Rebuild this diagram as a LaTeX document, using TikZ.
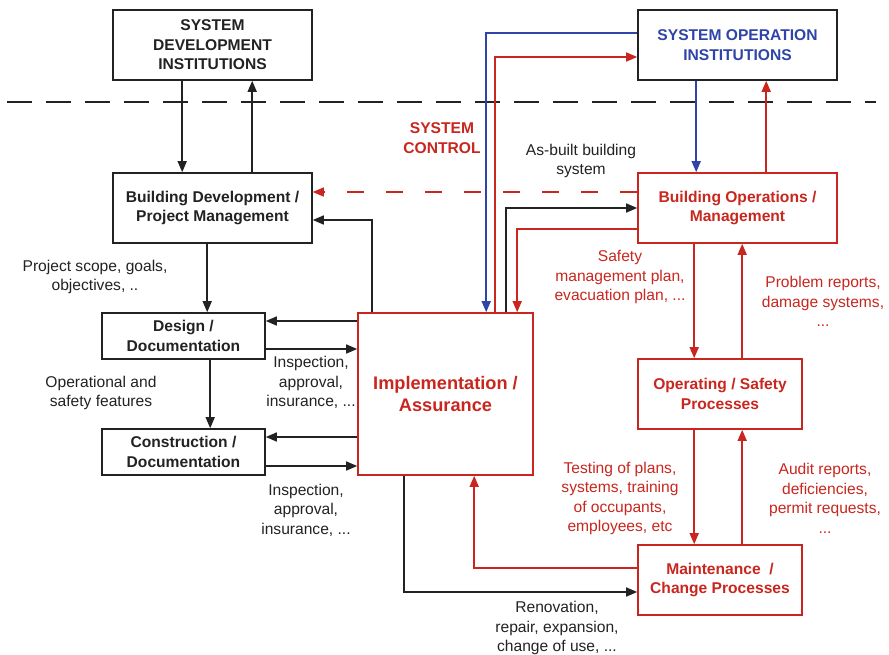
\documentclass[tikz,border=0pt]{standalone}
\usepackage{fontspec}
\setmainfont{Liberation Sans}
\usetikzlibrary{arrows.meta}
\definecolor{cred}{RGB}{200,38,30}
\definecolor{cblue}{RGB}{46,68,168}
\definecolor{cblk}{RGB}{34,34,34}
\newcommand\myfs{\fontsize{15.6}{19.5}\selectfont}
\newcommand\myfsbig{\fontsize{18.2}{22}\selectfont}
\tikzset{
  box/.style={draw=cblk, line width=1.6pt, inner sep=0pt, align=center, font=\myfs\bfseries, text=cblk},
  redbox/.style={box, draw=cred, text=cred},
  lbl/.style={align=center, font=\myfs, text=cblk, inner sep=0pt},
  redlbl/.style={lbl, text=cred},
  conn/.style={line width=1.5pt, draw=cblk, -{Triangle[length=11pt,width=9pt]}},
  redconn/.style={conn, draw=cred},
  blueconn/.style={conn, draw=cblue},
}
\begin{document}
\begin{tikzpicture}[x=1pt,y=-1pt]
\useasboundingbox (0,0) rectangle (889,654);
% dashed separator
\draw[cblk, line width=1.5pt, dash pattern=on 25pt off 14pt] (7,102) -- (876,102);

% boxes
\node[box, minimum width=199pt, minimum height=70pt] (sysdev) at (212.5,45) {SYSTEM\\DEVELOPMENT\\INSTITUTIONS};
\node[box, minimum width=199pt, minimum height=70pt, text=cblue] (sysop) at (737.5,45) {SYSTEM OPERATION\\INSTITUTIONS};
\node[box, minimum width=199pt, minimum height=70pt] (bdev) at (212.5,208) {Building Development /\\Project Management};
\node[redbox, minimum width=199pt, minimum height=70pt] (bops) at (737.5,208) {Building Operations /\\Management};
\node[box, minimum width=163pt, minimum height=46pt] (design) at (183.5,336) {Design /\\Documentation};
\node[box, minimum width=163pt, minimum height=46pt] (constr) at (183.5,452) {Construction /\\Documentation};
\node[redbox, minimum width=175pt, minimum height=162pt, font=\myfsbig\bfseries] (impl) at (445.5,394) {Implementation /\\Assurance};
\node[redbox, minimum width=164pt, minimum height=70pt] (opsafe) at (720,394) {Operating / Safety\\Processes};
\node[redbox, minimum width=164pt, minimum height=70pt] (maint) at (720,580) {Maintenance~~/\\Change Processes};

% left column connectors
\draw[conn] ([xshift=70pt]sysdev.south west) coordinate (a1) -- (a1 |- bdev.north);
\draw[conn] ([xshift=140pt]bdev.north west) coordinate (a2) -- (a2 |- sysdev.south);
\draw[conn] ([xshift=95pt]bdev.south west) coordinate (a3) -- (a3 |- design.north);
\draw[conn] ([xshift=109pt]design.south west) coordinate (a4) -- (a4 |- constr.north);
\draw[conn] ([xshift=15pt]impl.north west) |- ([yshift=-12pt]bdev.east);
\draw[conn] ([yshift=15pt]design.east -| impl.west) -- ([yshift=15pt]design.east);
\draw[conn] ([yshift=-13pt]design.east) -- ([yshift=-13pt]design.east -| impl.west);
\draw[conn] ([yshift=15pt]constr.east -| impl.west) -- ([yshift=15pt]constr.east);
\draw[conn] ([yshift=-14pt]constr.east) -- ([yshift=-14pt]constr.east -| impl.west);

% dashed red control
\draw[redconn, dash pattern=on 17pt off 22pt] ([yshift=16pt]bops.west) -- ([yshift=16pt]bdev.east);

% top connectors between impl and institutions
\draw[blueconn] ([yshift=12pt]sysop.west) -| ([xshift=129pt]impl.north west);
\draw[redconn] ([xshift=138pt]impl.north west) |- ([yshift=-12pt]sysop.west);
\draw[conn] ([xshift=149pt]impl.north west) |- (bops.west);
\draw[redconn] ([yshift=-21pt]bops.west) -| ([xshift=160pt]impl.north west);

% right column
\draw[blueconn] ([xshift=59pt]sysop.south west) coordinate (b1) -- (b1 |- bops.north);
\draw[redconn] ([xshift=129pt]bops.north west) coordinate (b2) -- (b2 |- sysop.south);
\draw[redconn] ([xshift=57pt]bops.south west) coordinate (b3) -- (b3 |- opsafe.north);
\draw[redconn] ([xshift=105pt]opsafe.north west) coordinate (b4) -- (b4 |- bops.south);
\draw[redconn] ([xshift=57pt]opsafe.south west) coordinate (b5) -- (b5 |- maint.north);
\draw[redconn] ([xshift=105pt]maint.north west) coordinate (b6) -- (b6 |- opsafe.south);

% bottom
\draw[redconn] ([yshift=12pt]maint.west) -| ([xshift=117pt]impl.south west);
\draw[conn] ([xshift=47pt]impl.south west) |- ([yshift=-12pt]maint.west);

% labels
\node[redlbl, font=\myfs\bfseries] (lsc) at (442,138) {SYSTEM\\CONTROL};
\node[lbl] (lasb) at (581,161) {As-built building\\system};
\node[lbl] (lps) at (95,277) {Project scope, goals,\\objectives, ..};
\node[lbl] (lop) at (101,393) {Operational and\\safety features};
\node[lbl] (lin1) at (311,382.5) {Inspection,\\approval,\\insurance, ...};
\node[lbl] (lin2) at (306,510) {Inspection,\\approval,\\insurance, ...};
\node[redlbl] (lsm) at (620,277) {Safety\\management plan,\\evacuation plan, ...};
\node[redlbl] (lpr) at (823,301.5) {Problem reports,\\damage systems,\\...};
\node[redlbl] (ltp) at (620,498.5) {Testing of plans,\\systems, training\\of occupants,\\employees, etc};
\node[redlbl] (lar) at (825,498.5) {Audit reports,\\deficiencies,\\permit requests,\\...};
\node[lbl] (lren) at (557,628) {Renovation,\\repair, expansion,\\change of use, ...};
\end{tikzpicture}
\end{document}
